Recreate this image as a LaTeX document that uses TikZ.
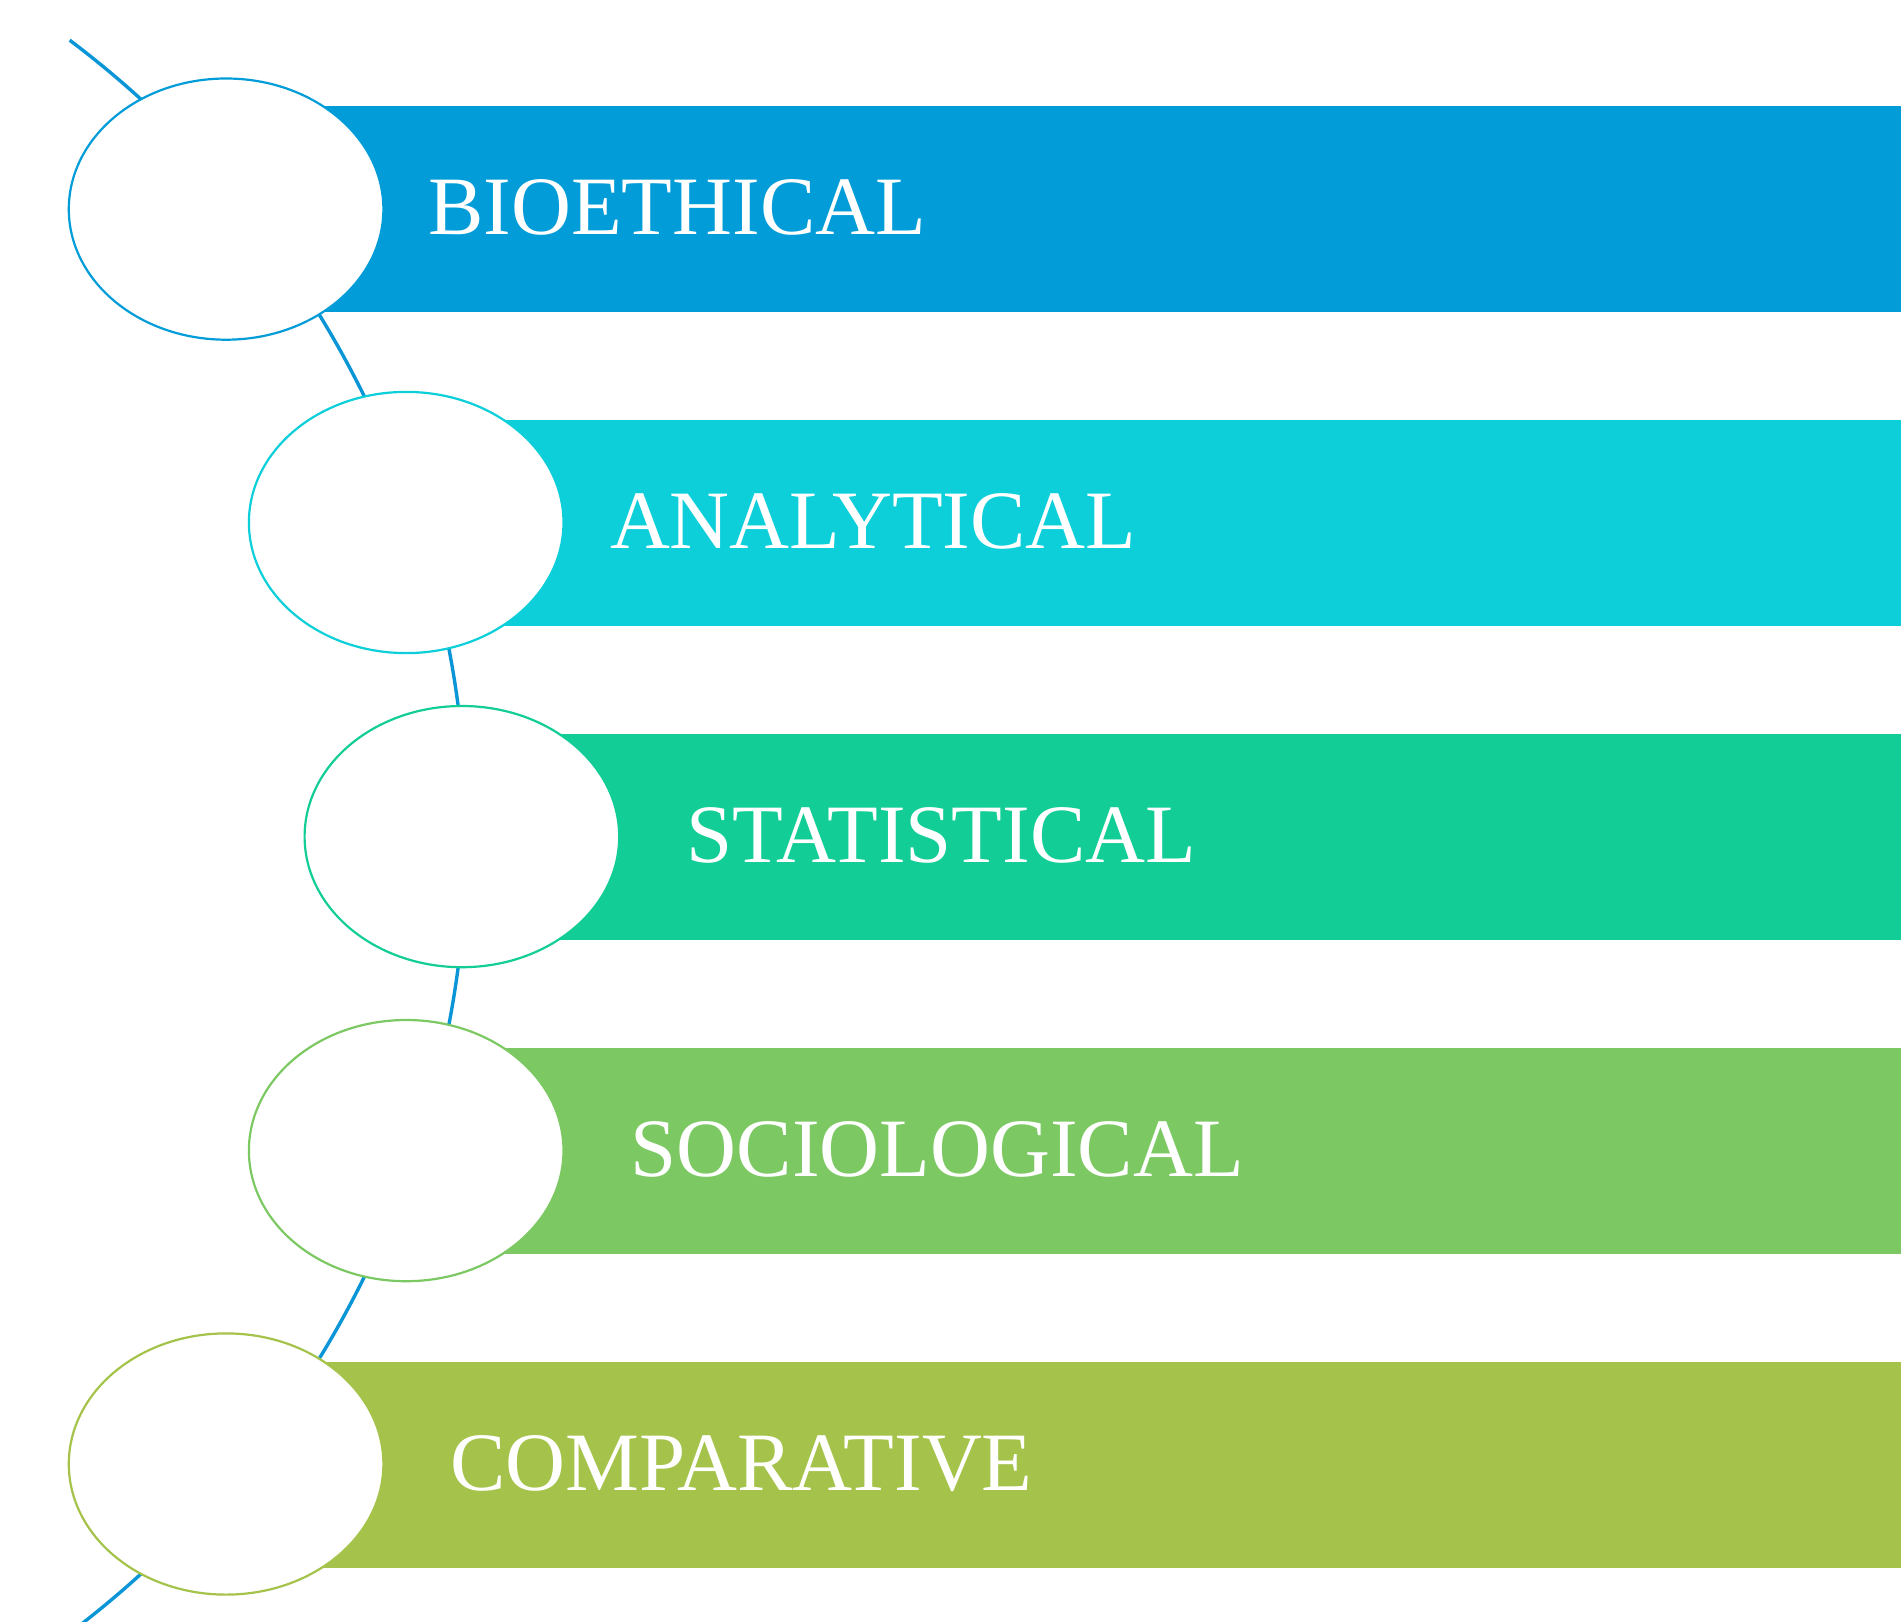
\documentclass[tikz,border=0pt]{standalone}
\usepackage{fontspec}
\setmainfont{Liberation Serif}
\usetikzlibrary{shapes.geometric}
\definecolor{cA}{RGB}{2,157,216}
\definecolor{cB}{RGB}{12,207,218}
\definecolor{cC}{RGB}{18,206,150}
\definecolor{cD}{RGB}{124,201,99}
\definecolor{cE}{RGB}{165,195,74}
\definecolor{lineblue}{RGB}{10,150,214}
\tikzset{
  bubble/.style={ellipse, draw=#1, line width=2.2pt, fill=white, minimum width=314.6pt, minimum height=261.2pt, inner sep=0pt},
  band/.style={fill=#1, draw=none},
  label/.style={text=white, anchor=west, inner sep=0pt, font=\fontsize{83}{83}\selectfont},
}
\begin{document}
\begin{tikzpicture}[x=1pt,y=-1pt]
\useasboundingbox (0,0) rectangle (1901,1622);
\fill[white] (0,0) rectangle (1901,1622);
% spine arc
\coordinate (arctop) at (69.7,40.2);
\draw[lineblue, line width=3.4pt] (arctop) arc[start angle=-53, end angle=55, radius=997.2];
% bands
\fill[band=cA] (226,105.5) rectangle (1901,311.6);
\fill[band=cB] (406,419.5) rectangle (1901,625.6);
\fill[band=cC] (462,733.5) rectangle (1901,939.6);
\fill[band=cD] (406,1047.5) rectangle (1901,1253.6);
\fill[band=cE] (226,1361.5) rectangle (1901,1567.6);
% bubbles
\node[bubble=cA] (e1) at (226.1,209.1) {};
\node[bubble=cB] (e2) at (406.2,522.5) {};
\node[bubble=cC] (e3) at (461.9,836.6) {};
\node[bubble=cD] (e4) at (406.2,1150.6) {};
\node[bubble=cE] (e5) at (226.1,1464.0) {};
% labels
\node[label] (t1) at (428,207.5) {BIOETHICAL};
\node[label] (t2) at (609.8,521.5) {ANALYTICAL};
\node[label] (t3) at (686.2,835.5) {STATISTICAL};
\node[label] (t4) at (630.4,1149.5) {SOCIOLOGICAL};
\node[label] (t5) at (449.8,1463.5) {COMPARATIVE};
\end{tikzpicture}
\end{document}
